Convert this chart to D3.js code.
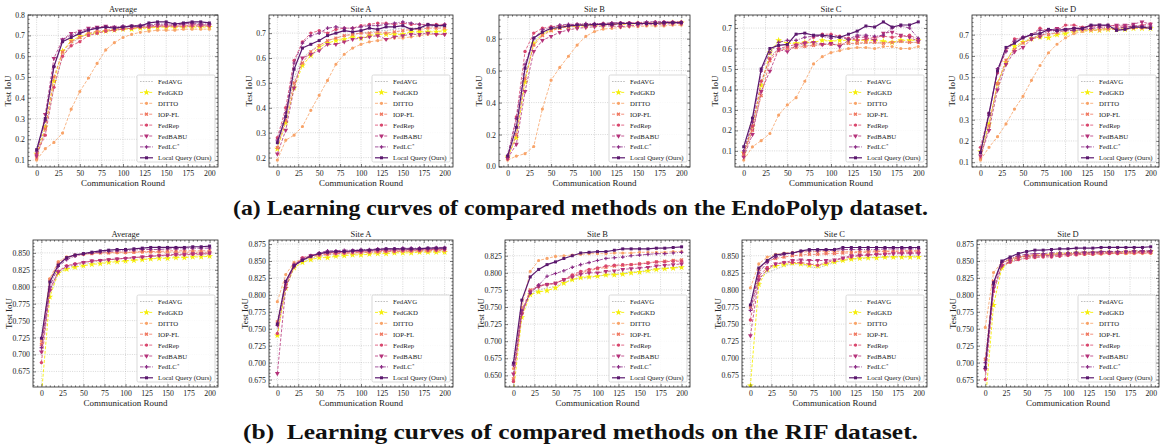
<!DOCTYPE html>
<html>
<head>
<meta charset="utf-8">
<script src="https://cdn.jsdelivr.net/npm/d3@7"></script>
<style>
  body { margin: 0; background: #fff; }
  svg { font-family: "Liberation Serif", "Times New Roman", serif; }
</style>
</head>
<body>
<div id="wrapper"></div>
<script>
// communication rounds where the curves were evaluated
const rounds = [0, 10, 20, 30, 40, 50, 60, 70, 80, 90, 100, 110, 120, 130, 140, 150, 160, 170, 180, 190, 200];
const methods = ["FedAVG", "FedGKD", "DITTO", "IOP-FL", "FedRep", "FedBABU", "FedLC", "Local Query (Ours)"];
const methodColors = ["#b9b9b9", "#f5ee0a", "#f8a368", "#f0765e", "#d9466d", "#b5327a", "#8a2a84", "#5b186e"];
const xTicks = [0, 25, 50, 75, 100, 125, 150, 175, 200];

// EndoPolyp, series order follows `methods`
const endoAverage = [
  [0.12,0.24,0.45,0.60,0.66,0.69,0.705,0.715,0.72,0.725,0.73,0.735,0.735,0.74,0.74,0.745,0.745,0.745,0.745,0.745,0.745],
  [0.13,0.26,0.48,0.625,0.675,0.695,0.705,0.715,0.72,0.725,0.73,0.73,0.735,0.735,0.74,0.74,0.74,0.74,0.74,0.74,0.74],
  [0.10,0.155,0.185,0.23,0.345,0.43,0.495,0.565,0.63,0.665,0.69,0.705,0.715,0.72,0.725,0.725,0.725,0.73,0.73,0.73,0.73],
  [0.11,0.25,0.50,0.62,0.67,0.69,0.71,0.72,0.725,0.73,0.735,0.735,0.74,0.74,0.745,0.745,0.745,0.745,0.75,0.75,0.75],
  [0.13,0.22,0.45,0.60,0.65,0.67,0.70,0.71,0.72,0.725,0.73,0.735,0.74,0.74,0.745,0.745,0.745,0.745,0.745,0.745,0.745],
  [0.12,0.32,0.59,0.68,0.71,0.72,0.735,0.74,0.745,0.74,0.74,0.745,0.745,0.745,0.75,0.75,0.75,0.755,0.755,0.75,0.75],
  [0.14,0.29,0.55,0.68,0.70,0.715,0.73,0.735,0.74,0.74,0.745,0.745,0.75,0.75,0.755,0.755,0.755,0.755,0.76,0.755,0.755],
  [0.15,0.30,0.55,0.67,0.69,0.71,0.725,0.735,0.74,0.735,0.74,0.745,0.745,0.76,0.765,0.765,0.755,0.76,0.765,0.765,0.76]
];
const endoSiteA = [
  [0.25,0.36,0.52,0.60,0.63,0.65,0.67,0.68,0.69,0.695,0.70,0.705,0.71,0.71,0.715,0.72,0.72,0.72,0.725,0.725,0.725],
  [0.235,0.34,0.48,0.57,0.61,0.645,0.66,0.67,0.675,0.685,0.68,0.69,0.695,0.695,0.695,0.695,0.705,0.705,0.705,0.705,0.71],
  [0.19,0.27,0.29,0.325,0.39,0.45,0.51,0.575,0.615,0.64,0.655,0.665,0.67,0.675,0.68,0.68,0.685,0.69,0.695,0.695,0.695],
  [0.24,0.35,0.50,0.58,0.625,0.65,0.67,0.68,0.69,0.695,0.70,0.70,0.705,0.70,0.705,0.71,0.715,0.715,0.72,0.72,0.72],
  [0.28,0.40,0.59,0.665,0.70,0.71,0.70,0.715,0.72,0.72,0.73,0.735,0.74,0.74,0.735,0.74,0.735,0.735,0.735,0.735,0.735],
  [0.215,0.31,0.48,0.60,0.615,0.63,0.655,0.655,0.665,0.675,0.68,0.685,0.69,0.675,0.685,0.69,0.695,0.695,0.70,0.695,0.695],
  [0.27,0.38,0.58,0.66,0.69,0.70,0.72,0.725,0.72,0.72,0.725,0.73,0.73,0.735,0.74,0.745,0.74,0.735,0.73,0.73,0.735],
  [0.26,0.365,0.555,0.64,0.655,0.67,0.69,0.70,0.71,0.705,0.71,0.72,0.715,0.725,0.725,0.73,0.715,0.72,0.735,0.73,0.73]
];
const endoSiteB = [
  [0.06,0.20,0.56,0.78,0.835,0.86,0.87,0.875,0.88,0.885,0.885,0.89,0.89,0.89,0.895,0.895,0.895,0.895,0.90,0.90,0.90],
  [0.06,0.18,0.53,0.77,0.83,0.855,0.87,0.875,0.875,0.88,0.885,0.885,0.89,0.89,0.89,0.895,0.895,0.895,0.895,0.90,0.90],
  [0.04,0.065,0.08,0.125,0.36,0.54,0.62,0.69,0.76,0.815,0.845,0.86,0.865,0.87,0.875,0.875,0.88,0.88,0.88,0.885,0.885],
  [0.05,0.20,0.55,0.76,0.82,0.85,0.865,0.875,0.88,0.885,0.885,0.89,0.89,0.89,0.895,0.895,0.895,0.895,0.90,0.90,0.90],
  [0.06,0.31,0.72,0.835,0.865,0.875,0.88,0.885,0.89,0.89,0.89,0.895,0.895,0.90,0.90,0.90,0.90,0.905,0.905,0.905,0.905],
  [0.05,0.14,0.47,0.72,0.79,0.815,0.84,0.855,0.865,0.87,0.875,0.88,0.88,0.875,0.88,0.885,0.89,0.89,0.89,0.895,0.895],
  [0.07,0.30,0.64,0.80,0.855,0.87,0.885,0.89,0.89,0.895,0.895,0.895,0.90,0.90,0.90,0.90,0.905,0.905,0.905,0.905,0.905],
  [0.065,0.245,0.615,0.805,0.84,0.865,0.87,0.88,0.885,0.885,0.89,0.89,0.89,0.895,0.895,0.895,0.895,0.895,0.90,0.90,0.90]
];
const endoSiteC = [
  [0.08,0.21,0.41,0.56,0.60,0.60,0.61,0.615,0.615,0.62,0.62,0.62,0.62,0.625,0.625,0.625,0.63,0.63,0.63,0.63,0.63],
  [0.09,0.22,0.42,0.58,0.64,0.625,0.625,0.63,0.63,0.64,0.635,0.64,0.64,0.64,0.64,0.64,0.635,0.63,0.64,0.64,0.64],
  [0.055,0.12,0.15,0.185,0.275,0.325,0.36,0.44,0.525,0.56,0.58,0.59,0.60,0.605,0.605,0.60,0.61,0.61,0.60,0.60,0.61],
  [0.08,0.20,0.37,0.54,0.59,0.60,0.605,0.61,0.615,0.62,0.62,0.62,0.625,0.625,0.63,0.63,0.625,0.63,0.635,0.63,0.63],
  [0.09,0.22,0.44,0.55,0.60,0.61,0.62,0.63,0.655,0.67,0.67,0.66,0.65,0.64,0.645,0.655,0.66,0.655,0.66,0.665,0.645],
  [0.07,0.18,0.39,0.49,0.595,0.585,0.615,0.625,0.63,0.62,0.625,0.61,0.64,0.655,0.655,0.64,0.675,0.68,0.665,0.655,0.635],
  [0.10,0.24,0.49,0.58,0.63,0.64,0.64,0.655,0.66,0.66,0.65,0.655,0.645,0.665,0.665,0.66,0.665,0.70,0.71,0.70,0.65],
  [0.12,0.26,0.50,0.60,0.615,0.62,0.67,0.675,0.665,0.665,0.66,0.655,0.67,0.685,0.71,0.705,0.73,0.705,0.715,0.715,0.73]
];
const endoSiteD = [
  [0.14,0.28,0.46,0.57,0.63,0.665,0.685,0.70,0.705,0.71,0.715,0.72,0.72,0.725,0.725,0.73,0.73,0.73,0.735,0.735,0.735],
  [0.15,0.28,0.47,0.57,0.645,0.665,0.68,0.69,0.685,0.70,0.705,0.715,0.72,0.72,0.72,0.725,0.725,0.725,0.73,0.73,0.73],
  [0.11,0.17,0.22,0.28,0.35,0.41,0.485,0.555,0.615,0.655,0.685,0.705,0.715,0.72,0.72,0.725,0.725,0.725,0.73,0.73,0.73],
  [0.12,0.27,0.47,0.58,0.63,0.66,0.68,0.70,0.70,0.71,0.72,0.72,0.725,0.725,0.73,0.73,0.73,0.735,0.735,0.735,0.735],
  [0.17,0.33,0.52,0.625,0.68,0.685,0.70,0.73,0.72,0.72,0.745,0.745,0.735,0.74,0.74,0.745,0.74,0.74,0.74,0.745,0.75],
  [0.13,0.25,0.44,0.56,0.62,0.64,0.68,0.69,0.72,0.73,0.725,0.73,0.73,0.74,0.745,0.74,0.745,0.745,0.75,0.76,0.75],
  [0.15,0.32,0.54,0.62,0.67,0.69,0.70,0.72,0.72,0.715,0.72,0.72,0.725,0.73,0.735,0.735,0.73,0.735,0.74,0.74,0.74],
  [0.145,0.33,0.53,0.64,0.66,0.685,0.70,0.705,0.725,0.72,0.725,0.73,0.73,0.745,0.745,0.745,0.72,0.725,0.735,0.735,0.73]
];

// RIF
const rifAverage = [
  [0.70,0.79,0.82,0.828,0.831,0.834,0.836,0.838,0.84,0.841,0.842,0.843,0.844,0.845,0.845,0.846,0.846,0.847,0.847,0.847,0.848],
  [0.64,0.785,0.82,0.826,0.829,0.831,0.833,0.834,0.836,0.837,0.838,0.839,0.840,0.841,0.842,0.842,0.843,0.843,0.844,0.844,0.845],
  [0.72,0.812,0.837,0.844,0.847,0.848,0.849,0.850,0.850,0.850,0.850,0.851,0.851,0.851,0.851,0.851,0.851,0.851,0.851,0.851,0.851],
  [0.715,0.81,0.835,0.843,0.846,0.848,0.849,0.850,0.850,0.851,0.851,0.851,0.852,0.852,0.852,0.853,0.853,0.853,0.853,0.853,0.853],
  [0.688,0.795,0.823,0.831,0.834,0.836,0.838,0.839,0.840,0.841,0.842,0.843,0.844,0.845,0.846,0.846,0.847,0.847,0.848,0.848,0.849],
  [0.704,0.795,0.822,0.83,0.833,0.836,0.838,0.839,0.84,0.841,0.842,0.843,0.844,0.845,0.846,0.847,0.848,0.848,0.849,0.849,0.850],
  [0.71,0.80,0.83,0.84,0.845,0.848,0.85,0.851,0.852,0.853,0.853,0.854,0.855,0.855,0.855,0.856,0.856,0.856,0.857,0.857,0.857],
  [0.724,0.807,0.832,0.843,0.847,0.849,0.851,0.853,0.854,0.855,0.855,0.856,0.857,0.858,0.858,0.858,0.858,0.858,0.859,0.859,0.860]
];
const rifSiteA = [
  [0.745,0.815,0.842,0.85,0.854,0.857,0.859,0.86,0.861,0.862,0.862,0.863,0.863,0.864,0.864,0.864,0.865,0.865,0.865,0.865,0.865],
  [0.74,0.81,0.84,0.848,0.852,0.855,0.855,0.857,0.858,0.859,0.859,0.86,0.861,0.861,0.862,0.862,0.862,0.863,0.863,0.863,0.863],
  [0.79,0.83,0.848,0.853,0.856,0.858,0.86,0.861,0.861,0.862,0.862,0.863,0.863,0.864,0.864,0.864,0.864,0.865,0.865,0.865,0.865],
  [0.76,0.82,0.845,0.853,0.856,0.859,0.86,0.861,0.862,0.862,0.863,0.863,0.864,0.864,0.864,0.865,0.865,0.865,0.865,0.866,0.866],
  [0.743,0.815,0.843,0.855,0.858,0.861,0.862,0.863,0.863,0.864,0.864,0.865,0.865,0.866,0.866,0.866,0.866,0.866,0.867,0.867,0.867],
  [0.684,0.81,0.842,0.853,0.858,0.86,0.862,0.862,0.863,0.864,0.864,0.865,0.866,0.866,0.866,0.867,0.867,0.867,0.867,0.867,0.868],
  [0.755,0.818,0.845,0.852,0.858,0.862,0.865,0.865,0.866,0.866,0.867,0.867,0.868,0.868,0.868,0.869,0.869,0.869,0.869,0.870,0.870],
  [0.757,0.82,0.843,0.851,0.857,0.861,0.863,0.864,0.864,0.865,0.866,0.866,0.867,0.868,0.868,0.868,0.868,0.868,0.869,0.869,0.869]
];
const rifSiteB = [
  [0.655,0.74,0.77,0.775,0.778,0.78,0.786,0.79,0.792,0.793,0.795,0.797,0.799,0.80,0.801,0.802,0.804,0.806,0.807,0.808,0.809],
  [0.625,0.735,0.768,0.772,0.774,0.778,0.785,0.79,0.793,0.794,0.795,0.797,0.797,0.798,0.80,0.801,0.803,0.805,0.806,0.807,0.808],
  [0.66,0.75,0.802,0.818,0.821,0.824,0.825,0.826,0.827,0.828,0.828,0.828,0.829,0.829,0.829,0.83,0.83,0.83,0.83,0.831,0.831],
  [0.645,0.745,0.775,0.78,0.783,0.785,0.79,0.795,0.80,0.803,0.806,0.808,0.81,0.811,0.812,0.813,0.815,0.816,0.817,0.818,0.819],
  [0.641,0.74,0.773,0.782,0.783,0.784,0.79,0.797,0.802,0.805,0.807,0.81,0.811,0.812,0.812,0.813,0.814,0.816,0.816,0.817,0.817],
  [0.652,0.74,0.772,0.78,0.783,0.785,0.79,0.794,0.798,0.80,0.80,0.802,0.803,0.805,0.806,0.807,0.808,0.81,0.811,0.812,0.813],
  [0.665,0.745,0.77,0.782,0.795,0.799,0.803,0.808,0.812,0.815,0.818,0.821,0.822,0.823,0.825,0.826,0.827,0.828,0.828,0.829,0.830],
  [0.668,0.76,0.794,0.805,0.812,0.816,0.821,0.825,0.829,0.83,0.831,0.831,0.833,0.835,0.835,0.835,0.835,0.836,0.836,0.837,0.838]
];
const rifSiteC = [
  [0.77,0.818,0.825,0.83,0.835,0.838,0.838,0.834,0.832,0.836,0.84,0.843,0.845,0.846,0.847,0.848,0.848,0.849,0.849,0.849,0.85],
  [0.66,0.808,0.83,0.835,0.837,0.839,0.838,0.836,0.835,0.838,0.841,0.843,0.845,0.846,0.847,0.847,0.848,0.848,0.848,0.848,0.848],
  [0.803,0.838,0.848,0.852,0.854,0.855,0.855,0.856,0.856,0.856,0.856,0.856,0.856,0.856,0.857,0.857,0.857,0.857,0.857,0.857,0.857],
  [0.775,0.83,0.842,0.846,0.848,0.85,0.851,0.852,0.852,0.853,0.853,0.854,0.854,0.855,0.855,0.856,0.856,0.856,0.857,0.857,0.857],
  [0.756,0.82,0.833,0.838,0.84,0.84,0.84,0.838,0.836,0.84,0.843,0.846,0.848,0.85,0.851,0.852,0.853,0.854,0.855,0.855,0.855],
  [0.733,0.815,0.83,0.838,0.84,0.843,0.844,0.843,0.843,0.843,0.844,0.847,0.85,0.851,0.851,0.852,0.852,0.853,0.853,0.853,0.853],
  [0.77,0.825,0.84,0.848,0.852,0.854,0.856,0.857,0.857,0.858,0.858,0.859,0.859,0.859,0.859,0.859,0.86,0.86,0.86,0.86,0.86],
  [0.778,0.832,0.843,0.851,0.853,0.854,0.857,0.859,0.859,0.859,0.859,0.862,0.862,0.862,0.862,0.862,0.862,0.862,0.862,0.862,0.862]
];
const rifSiteD = [
  [0.68,0.805,0.84,0.848,0.852,0.855,0.856,0.857,0.858,0.859,0.86,0.86,0.861,0.861,0.862,0.862,0.862,0.862,0.863,0.863,0.863],
  [0.64,0.785,0.84,0.85,0.855,0.857,0.858,0.859,0.86,0.861,0.861,0.862,0.862,0.862,0.863,0.863,0.863,0.863,0.864,0.864,0.864],
  [0.752,0.833,0.848,0.853,0.856,0.857,0.858,0.858,0.859,0.859,0.86,0.86,0.86,0.86,0.86,0.861,0.861,0.861,0.861,0.861,0.861],
  [0.705,0.82,0.846,0.853,0.856,0.858,0.859,0.859,0.86,0.86,0.861,0.861,0.861,0.862,0.862,0.862,0.862,0.862,0.862,0.863,0.863],
  [0.675,0.805,0.843,0.848,0.852,0.854,0.855,0.856,0.856,0.857,0.858,0.859,0.86,0.86,0.861,0.861,0.861,0.862,0.862,0.862,0.862],
  [0.69,0.81,0.843,0.85,0.855,0.857,0.857,0.858,0.858,0.859,0.86,0.861,0.862,0.862,0.863,0.863,0.863,0.864,0.864,0.864,0.864],
  [0.70,0.815,0.848,0.854,0.858,0.86,0.861,0.861,0.862,0.862,0.862,0.863,0.863,0.863,0.864,0.864,0.864,0.864,0.865,0.865,0.865],
  [0.693,0.818,0.85,0.856,0.861,0.864,0.866,0.866,0.867,0.868,0.868,0.869,0.869,0.869,0.87,0.87,0.87,0.87,0.87,0.87,0.871]
];

const panelTitles = ["Average", "Site A", "Site B", "Site C", "Site D"];
const endoYTicks = [
  [0.1, 0.2, 0.3, 0.4, 0.5, 0.6, 0.7, 0.8],
  [0.2, 0.3, 0.4, 0.5, 0.6, 0.7],
  [0.0, 0.2, 0.4, 0.6, 0.8],
  [0.1, 0.2, 0.3, 0.4, 0.5, 0.6, 0.7],
  [0.1, 0.2, 0.3, 0.4, 0.5, 0.6, 0.7]
];
const rifYTicks = [
  [0.675, 0.700, 0.725, 0.750, 0.775, 0.800, 0.825, 0.850],
  [0.675, 0.700, 0.725, 0.750, 0.775, 0.800, 0.825, 0.850, 0.875],
  [0.650, 0.675, 0.700, 0.725, 0.750, 0.775, 0.800, 0.825],
  [0.675, 0.700, 0.725, 0.750, 0.775, 0.800, 0.825, 0.850],
  [0.675, 0.700, 0.725, 0.750, 0.775, 0.800, 0.825, 0.850, 0.875]
];
// RIF panels use a fixed y range (the first rounds fall below it)
const rifYLimits = [[0.652, 0.869], [0.664, 0.881], [0.633, 0.848], [0.658, 0.873], [0.664, 0.881]];

// layout

const width = 1161;
const height = 447;

const topFrames = [[28, 218], [269, 453], [499, 690], [735, 927], [972, 1159]];
const bottomFrames = [[33, 218], [269, 453], [505, 690], [742, 927], [977, 1159]];

const rows = [
  { frames: topFrames, y0: 15, y1: 167, data: [endoAverage, endoSiteA, endoSiteB, endoSiteC, endoSiteD],
    ticks: endoYTicks, format: d3.format(".1f"), limits: null, minorCount: 5, labelOffset: 17 },
  { frames: bottomFrames, y0: 240, y1: 387, data: [rifAverage, rifSiteA, rifSiteB, rifSiteC, rifSiteD],
    ticks: rifYTicks, format: d3.format(".3f"), limits: rifYLimits, minorCount: 5, labelOffset: 21.5 }
];

const lineStyles = [
  { dash: "1.6,1.2", marker: null, size: 0, rotate: 0, width: 0.9 },
  { dash: "3,1.6", marker: d3.symbolStar, size: 14, rotate: 0, width: 0.9 },
  { dash: "3,1.6", marker: d3.symbolCircle, size: 8, rotate: 0, width: 0.8 },
  { dash: "3,1.6", marker: d3.symbolCross, size: 9, rotate: 45, width: 0.8 },
  { dash: "3,1.6", marker: d3.symbolCircle, size: 9, rotate: 0, width: 0.8 },
  { dash: "3,1.6", marker: d3.symbolTriangle, size: 10, rotate: 180, width: 0.8 },
  { dash: "3.5,1.4,1,1.4", marker: d3.symbolCross, size: 7, rotate: 0, width: 0.8 },
  { dash: null, marker: d3.symbolSquare, size: 9, rotate: 0, width: 1.2 }
];

const wrapper = d3.select("#wrapper")
  .append("svg")
  .attr("width", width)
  .attr("height", height);

const defs = wrapper.append("defs");

function methodLabel(sel, i) {
  sel.text(methods[i]);
  if (i === 6) {
    sel.append("tspan").attr("font-size", "5px").attr("dy", "-2.5").text("*");
  }
}

function drawPanel(row, col) {
  const [x0, x1] = row.frames[col];
  const y0 = row.y0, y1 = row.y1;
  const series = row.data[col];
  const id = `clip-${row.y0}-${col}`;

  let yDomain;
  if (row.limits) {
    yDomain = row.limits[col];
  } else {
    const ext = d3.extent(series.flat());
    const pad = (ext[1] - ext[0]) * 0.05;
    yDomain = [ext[0] - pad, ext[1] + pad];
  }

  const xScale = d3.scaleLinear().domain([-10, 210]).range([x0, x1]);
  const yScale = d3.scaleLinear().domain(yDomain).range([y1, y0]);

  const g = wrapper.append("g");

  defs.append("clipPath").attr("id", id)
    .append("rect").attr("x", x0).attr("y", y0).attr("width", x1 - x0).attr("height", y1 - y0);

  // grid
  const grid = g.append("g")
    .attr("stroke", "#b0b0b0")
    .attr("stroke-width", 0.5)
    .attr("stroke-dasharray", "1,1.3");
  grid.selectAll(".gx").data(xTicks).join("line")
    .attr("x1", d => xScale(d)).attr("x2", d => xScale(d))
    .attr("y1", y0).attr("y2", y1);
  grid.selectAll(".gy").data(row.ticks[col]).join("line")
    .attr("x1", x0).attr("x2", x1)
    .attr("y1", d => yScale(d)).attr("y2", d => yScale(d));

  // curves
  const lineGenerator = d3.line()
    .x((d, i) => xScale(rounds[i]))
    .y(d => yScale(d));

  const plot = g.append("g").attr("clip-path", `url(#${id})`);
  series.forEach((values, m) => {
    const st = lineStyles[m];
    plot.append("path")
      .attr("d", lineGenerator(values))
      .attr("fill", "none")
      .attr("stroke", methodColors[m])
      .attr("stroke-width", st.width)
      .attr("stroke-dasharray", st.dash);
    if (st.marker) {
      const sym = d3.symbol().type(st.marker).size(st.size);
      plot.selectAll(null).data(values).join("path")
        .attr("d", sym)
        .attr("transform", (d, i) => `translate(${xScale(rounds[i])},${yScale(d)}) rotate(${st.rotate})`)
        .attr("fill", methodColors[m]);
    }
  });

  // axes with inward ticks on all sides
  const xMinor = d3.range(-5, 206, 5).filter(v => v % 25 !== 0);
  const yt = row.ticks[col];
  const yStep = yt[1] - yt[0];
  const yMinor = [];
  for (let v = yt[0] - yStep; v <= yt[yt.length - 1] + yStep; v += yStep / row.minorCount) {
    const r = Math.round(v / (yStep / row.minorCount));
    if (r % row.minorCount !== 0 && v >= yDomain[0] && v <= yDomain[1]) yMinor.push(v);
  }

  const axes = [
    [d3.axisBottom(xScale).tickValues(xTicks).tickSize(-3).tickPadding(3), `translate(0,${y1})`],
    [d3.axisBottom(xScale).tickValues(xMinor).tickSize(-1.6).tickFormat(""), `translate(0,${y1})`],
    [d3.axisTop(xScale).tickValues(xTicks).tickSize(-3).tickFormat(""), `translate(0,${y0})`],
    [d3.axisTop(xScale).tickValues(xMinor).tickSize(-1.6).tickFormat(""), `translate(0,${y0})`],
    [d3.axisLeft(yScale).tickValues(yt).tickSize(-3).tickPadding(3).tickFormat(row.format), `translate(${x0},0)`],
    [d3.axisLeft(yScale).tickValues(yMinor).tickSize(-1.6).tickFormat(""), `translate(${x0},0)`],
    [d3.axisRight(yScale).tickValues(yt).tickSize(-3).tickFormat(""), `translate(${x1},0)`],
    [d3.axisRight(yScale).tickValues(yMinor).tickSize(-1.6).tickFormat(""), `translate(${x1},0)`]
  ];
  axes.forEach(([gen, tr]) => {
    const a = g.append("g").attr("transform", tr).call(gen);
    a.select(".domain").remove();
    a.selectAll("line").attr("stroke", "#222").attr("stroke-width", 0.6);
    a.selectAll("text")
      .attr("font-family", "Liberation Serif, serif")
      .attr("font-size", "7.8px")
      .attr("fill", "#222");
  });

  g.append("rect")
    .attr("x", x0).attr("y", y0)
    .attr("width", x1 - x0).attr("height", y1 - y0)
    .attr("fill", "none")
    .attr("stroke", "#222")
    .attr("stroke-width", 0.8);

  // labels
  g.append("text")
    .attr("x", (x0 + x1) / 2).attr("y", y0 - 3.5)
    .attr("text-anchor", "middle")
    .attr("font-size", "8.5px")
    .attr("fill", "#222")
    .text(panelTitles[col]);

  g.append("text")
    .attr("x", (x0 + x1) / 2).attr("y", y1 + 19)
    .attr("text-anchor", "middle")
    .attr("font-size", "9px")
    .attr("fill", "#222")
    .text("Communication Round");

  g.append("text")
    .attr("transform", `translate(${x0 - row.labelOffset},${(y0 + y1) / 2}) rotate(-90)`)
    .attr("text-anchor", "middle")
    .attr("font-size", "9px")
    .attr("fill", "#222")
    .text("Test IoU");

  // legend
  const legendW = 78, legendH = 87, rowH = 10.9;
  const lx = x1 - 3 - legendW, ly = y1 - 5 - legendH;
  const legend = g.append("g").attr("transform", `translate(${lx},${ly})`);
  legend.append("rect")
    .attr("width", legendW).attr("height", legendH)
    .attr("rx", 1.5)
    .attr("fill", "#fff").attr("fill-opacity", 0.85)
    .attr("stroke", "#cfcfcf").attr("stroke-width", 0.8);

  methods.forEach((name, m) => {
    const st = lineStyles[m];
    const cy = 6.5 + m * rowH;
    const item = legend.append("g").attr("transform", `translate(0,${cy})`);
    item.append("line")
      .attr("x1", 3).attr("x2", 16)
      .attr("stroke", methodColors[m])
      .attr("stroke-width", st.width)
      .attr("stroke-dasharray", st.dash);
    if (st.marker) {
      item.append("path")
        .attr("d", d3.symbol().type(st.marker).size(st.size)())
        .attr("transform", `translate(9.5,0) rotate(${st.rotate})`)
        .attr("fill", methodColors[m]);
    }
    item.append("text")
      .attr("x", 21).attr("y", 2.5)
      .attr("font-size", "6.8px")
      .attr("fill", "#222")
      .call(methodLabel, m);
  });
}

rows.forEach(row => {
  for (let c = 0; c < 5; c++) drawPanel(row, c);
});

// captions
const captions = [
  { text: "(a) Learning curves of compared methods on the EndoPolyp dataset.", y: 215, len: 695 },
  { text: "(b)\u00a0 Learning curves of compared methods on the RIF dataset.", y: 439, len: 675 }
];
wrapper.selectAll(".caption").data(captions).join("text")
  .attr("class", "caption")
  .attr("x", width / 2)
  .attr("y", d => d.y)
  .attr("text-anchor", "middle")
  .attr("font-size", "22px")
  .attr("font-weight", "bold")
  .attr("fill", "#111")
  .attr("textLength", d => d.len)
  .attr("lengthAdjust", "spacingAndGlyphs")
  .text(d => d.text);
</script>
</body>
</html>
